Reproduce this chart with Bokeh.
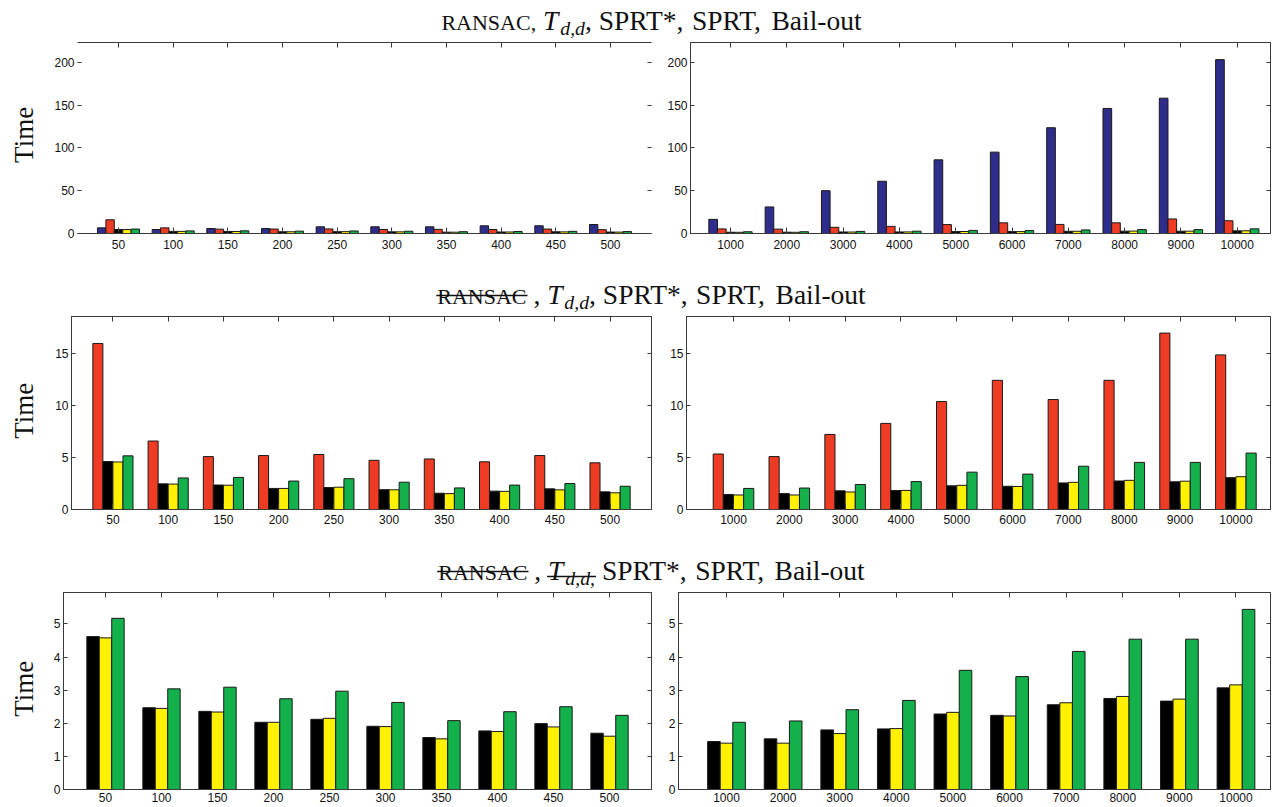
import math
from bokeh.plotting import figure
from bokeh.models import ColumnDataSource, Range1d, FixedTicker, LinearAxis
from bokeh.layouts import column, row
from bokeh.embed import file_html
from bokeh.resources import INLINE
from bokeh.core.properties import value
from bokeh.transform import dodge

# ---------------- data ----------------
small_cats = ["50", "100", "150", "200", "250", "300", "350", "400", "450", "500"]
large_cats = ["1000", "2000", "3000", "4000", "5000", "6000", "7000", "8000", "9000", "10000"]

ransac_small = [6.6, 4.7, 5.8, 5.8, 7.8, 7.8, 7.8, 9.0, 9.0, 10.5]
tdd_small = [16.0, 6.6, 5.1, 5.2, 5.3, 4.74, 4.87, 4.6, 5.2, 4.5]
sprt_star_small = [4.62, 2.47, 2.36, 2.03, 2.12, 1.91, 1.57, 1.77, 1.99, 1.70]
sprt_small = [4.58, 2.45, 2.34, 2.03, 2.15, 1.90, 1.53, 1.75, 1.89, 1.61]
bail_small = [5.17, 3.04, 3.09, 2.74, 2.97, 2.63, 2.08, 2.35, 2.50, 2.24]

ransac_large = [16.5, 31.0, 50.0, 61.0, 86.0, 95.0, 123.5, 146.0, 158.0, 203.0]
tdd_large = [5.35, 5.1, 7.23, 8.3, 10.4, 12.45, 10.6, 12.45, 17.0, 14.9]
sprt_star_large = [1.45, 1.53, 1.80, 1.83, 2.28, 2.24, 2.56, 2.75, 2.67, 3.07]
sprt_large = [1.40, 1.40, 1.69, 1.84, 2.33, 2.22, 2.62, 2.81, 2.73, 3.16]
bail_large = [2.03, 2.07, 2.41, 2.69, 3.60, 3.41, 4.17, 4.54, 4.54, 5.44]

series_keys = ["ransac", "tdd", "sprt_star", "sprt", "bail"]
series_colors = {"ransac": "#2e2d8c", "tdd": "#ee3c24", "sprt_star": "#000000",
                 "sprt": "#fff100", "bail": "#13b04b"}

row_y_max = [223, 18.6, 5.95]
row_y_ticks = [[0, 50, 100, 150, 200], [0, 5, 10, 15], [0, 1, 2, 3, 4, 5]]

small_src = ColumnDataSource(dict(
    idx=list(range(1, len(small_cats) + 1)), ransac=ransac_small, tdd=tdd_small,
    sprt_star=sprt_star_small, sprt=sprt_small, bail=bail_small))
large_src = ColumnDataSource(dict(
    idx=list(range(1, len(large_cats) + 1)), ransac=ransac_large, tdd=tdd_large,
    sprt_star=sprt_star_large, sprt=sprt_large, bail=bail_large))

AX = "#3a3a3a"
TICK_FONT = "Liberation Sans"
TICK_SIZE = "12px"
SERIF = value("Liberation Serif")
PAGE_W = 1274
TIME_W = 44
LW, RW = 620, 610
BASE_FIX = 0.29   # empirical shift of the alphabetic baseline (fraction of font size)


def make_panel(src, cats, keys, xr, ymax, yticks, width, height, bl, br, bt, bb,
               box=True, xstandoff=5, xtick_in=6):
    p = figure(width=width, height=height, x_range=Range1d(*xr), y_range=Range1d(0, ymax),
               output_backend="svg", toolbar_location=None, title=None,
               min_border_left=bl, min_border_right=br, min_border_top=bt, min_border_bottom=bb)
    p.xgrid.visible = False
    p.ygrid.visible = False
    p.background_fill_color = "white"
    p.border_fill_color = "white"
    p.outline_line_color = AX if box else None
    n = len(keys)
    gw = min(0.8, n / (n + 1.5))
    bw = gw / n
    for j, k in enumerate(keys):
        off = -gw / 2 + (j + 0.5) * bw
        p.vbar(x=dodge("idx", off, range=p.x_range), top=k, width=bw, bottom=0, source=src,
               fill_color=series_colors[k], line_color="#1a1a1a", line_width=1)
    ticks = list(range(1, len(cats) + 1))
    # bottom axis
    xa = p.xaxis[0]
    xa.ticker = FixedTicker(ticks=ticks)
    xa.major_label_overrides = {i + 1: c for i, c in enumerate(cats)}
    xa.major_tick_in = xtick_in
    xa.major_tick_out = 0
    xa.minor_tick_line_color = None
    xa.axis_line_color = AX
    xa.major_tick_line_color = AX
    xa.major_label_text_font = TICK_FONT
    xa.major_label_text_font_size = TICK_SIZE
    xa.major_label_text_color = "#111111"
    xa.major_label_standoff = xstandoff
    # left axis
    ya = p.yaxis[0]
    ya.ticker = FixedTicker(ticks=yticks)
    ya.major_tick_in = 4
    ya.major_tick_out = 0
    ya.minor_tick_line_color = None
    ya.axis_line_color = AX if box else None
    ya.major_tick_line_color = AX
    ya.major_label_text_font = TICK_FONT
    ya.major_label_text_font_size = TICK_SIZE
    ya.major_label_text_color = "#111111"
    ya.major_label_standoff = 3
    # mirrored axes (ticks only, no labels)
    top = LinearAxis(ticker=FixedTicker(ticks=ticks), major_tick_in=5, major_tick_out=0,
                     minor_tick_line_color=None, major_label_text_font_size="1px",
                     major_label_text_color=None, major_label_standoff=0,
                     axis_line_color=AX, major_tick_line_color=AX)
    p.add_layout(top, "above")
    right = LinearAxis(ticker=FixedTicker(ticks=yticks), major_tick_in=4, major_tick_out=0,
                       minor_tick_line_color=None, major_label_text_font_size="1px",
                       major_label_text_color=None, major_label_standoff=0,
                       axis_line_color=AX if box else None, major_tick_line_color=AX)
    p.add_layout(right, "right")
    return p


def make_time(top, height, yc, size=27):
    f = figure(width=TIME_W, height=height, x_range=Range1d(0, TIME_W),
               y_range=Range1d(top + height, top),
               output_backend="svg", toolbar_location=None, title=None,
               x_axis_type=None, y_axis_type=None, min_border=0)
    f.xgrid.visible = False
    f.ygrid.visible = False
    f.outline_line_color = None
    f.text(x=[31 - BASE_FIX * size], y=[yc], text=["Time"], angle=math.pi / 2, text_font=SERIF,
           text_font_size="%dpx" % size, text_align="center", text_baseline="alphabetic",
           text_color="#111111")
    return f


# Times metrics (per 1000 em) for title layout
TIMES = {' ': 250, ',': 250, '*': 500, '-': 333, 'S': 556, 'P': 556, 'R': 667, 'T': 611,
         'B': 667, 'a': 444, 'i': 278, 'l': 278, 'o': 500, 'u': 500, 't': 278,
         'A': 722, 'N': 722, 'C': 667}
TIMES_I = {'T': 556, 'd': 500, ',': 250}


def make_title(top, height, baseline, pieces, strikes, cx=651.0, F=27.5):
    """pieces: (text, scale, italic, dy, gap_after_in_em)"""
    f = figure(width=PAGE_W, height=height, x_range=Range1d(0, PAGE_W),
               y_range=Range1d(top + height, top), output_backend="svg",
               toolbar_location=None, title=None, x_axis_type=None, y_axis_type=None,
               min_border=0)
    f.xgrid.visible = False
    f.ygrid.visible = False
    f.outline_line_color = None
    widths, gaps = [], []
    for txt, scale, italic, dy, gap in pieces:
        tab = TIMES_I if italic else TIMES
        widths.append(sum(tab[c] for c in txt) * F * scale / 1000.0)
        gaps.append(gap * F)
    x = cx - (sum(widths) + sum(gaps)) / 2.0
    spans = []
    for (txt, scale, italic, dy, gap), w, g in zip(pieces, widths, gaps):
        size = F * scale
        f.text(x=[x], y=[baseline + dy * F - BASE_FIX * size], text=[txt], text_font=SERIF,
               text_font_size="%.1fpx" % size,
               text_font_style="italic" if italic else "normal",
               text_align="left", text_baseline="alphabetic", text_color="#111111")
        spans.append((x, x + w))
        x += w + g
    for (i0, i1, dy) in strikes:
        f.segment(x0=[spans[i0][0] - 1], y0=[baseline + dy], x1=[spans[i1][1] + 1],
                  y1=[baseline + dy], line_color="#111111", line_width=1.4)
    return f


SC = 0.8
SUB = 0.72
SP = 0.25  # width of a space, in em
pieces1 = [("RANSAC,", SC, False, 0, SP), ("T", 1, True, 0, 0.07),
           ("d,d", SUB, True, 0.2, 0), (",", 1, False, 0, SP),
           ("SPRT*,", 1, False, 0, SP), ("SPRT,", 1, False, 0, SP), ("Bail-out", 1, False, 0, 0)]
pieces2 = [("RANSAC", SC, False, 0, SP), (",", 1, False, 0, SP), ("T", 1, True, 0, 0.07),
           ("d,d", SUB, True, 0.2, 0), (",", 1, False, 0, SP),
           ("SPRT*,", 1, False, 0, SP), ("SPRT,", 1, False, 0, SP), ("Bail-out", 1, False, 0, 0)]
pieces3 = [("RANSAC", SC, False, 0, SP), (",", 1, False, 0, SP), ("T", 1, True, 0, 0.07),
           ("d,d,", SUB, True, 0.2, SP),
           ("SPRT*,", 1, False, 0, SP), ("SPRT,", 1, False, 0, SP), ("Bail-out", 1, False, 0, 0)]

# Row 1 (title 0-40, panels 40-255, frame 42-233)
t1 = make_title(0, 40, 28, pieces1, [])
r1_time = make_time(40, 215, 144)
r1_left = make_panel(small_src, small_cats, series_keys, (0.25, 10.75), row_y_max[0], row_y_ticks[0],
                     LW, 215, 33, 13, 2, 22, box=False, xstandoff=6)
r1_right = make_panel(large_src, large_cats, series_keys, (0.29, 10.59), row_y_max[0], row_y_ticks[0],
                      RW, 215, 26, 4, 2, 22, xstandoff=6)

# Row 2 (title 255-314, panels 314-531, frame 316-509)
t2 = make_title(255, 59, 302, pieces2, [(0, 0, -7)])
r2_time = make_time(314, 217, 420)
r2_left = make_panel(small_src, small_cats, series_keys[1:], (0.25, 10.75), row_y_max[1], row_y_ticks[1],
                     LW, 217, 27, 13, 2, 22, xstandoff=5)
r2_right = make_panel(large_src, large_cats, series_keys[1:], (0.158, 10.62), row_y_max[1], row_y_ticks[1],
                      RW, 217, 22, 4, 2, 22, xstandoff=5)

# Row 3 (title 531-590, panels 590-807, frame 592-789)
t3 = make_title(531, 59, 578, pieces3, [(0, 0, -7), (2, 3, -2)])
r3_time = make_time(590, 217, 696)
r3_left = make_panel(small_src, small_cats, series_keys[2:], (0.25, 10.75), row_y_max[2], row_y_ticks[2],
                     LW, 217, 19, 13, 2, 18, xstandoff=3, xtick_in=0)
r3_right = make_panel(large_src, large_cats, series_keys[2:], (0.152, 10.61), row_y_max[2], row_y_ticks[2],
                      RW, 217, 14, 4, 2, 18, xstandoff=3, xtick_in=0)

layout = column(
    t1, row(r1_time, r1_left, r1_right, spacing=0),
    t2, row(r2_time, r2_left, r2_right, spacing=0),
    t3, row(r3_time, r3_left, r3_right, spacing=0),
    spacing=0,
)

open("out.html", "w").write(file_html(layout, INLINE))
